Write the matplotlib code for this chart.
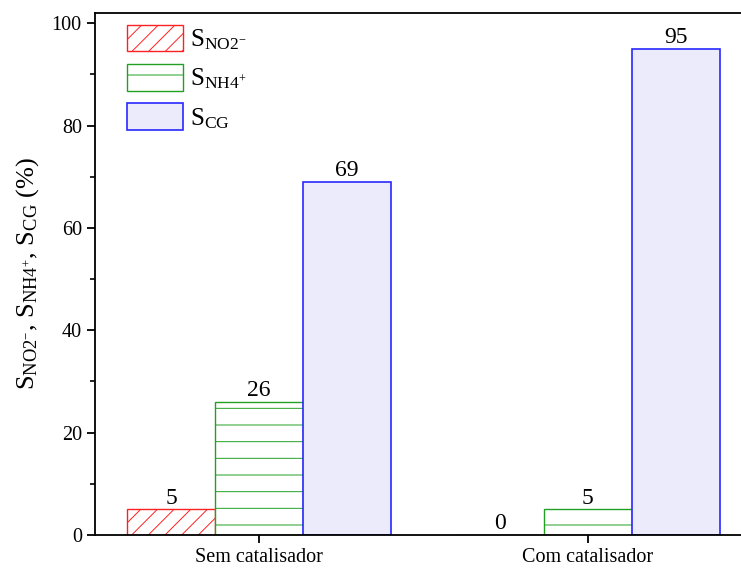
import numpy as np
import matplotlib
matplotlib.use("Agg")
import matplotlib.pyplot as plt
from matplotlib.ticker import MultipleLocator

plt.rcParams["font.family"] = ["Liberation Serif", "DejaVu Serif"]
plt.rcParams["mathtext.fontset"] = "custom"
plt.rcParams["mathtext.rm"] = "Liberation Serif"
plt.rcParams["mathtext.it"] = "Liberation Serif"
plt.rcParams["hatch.linewidth"] = 0.7

# data
groups = ["Sem catalisador", "Com catalisador"]
s_no2 = [5, 0]
s_nh4 = [26, 5]
s_cg = [69, 95]
series_labels = [r"$\mathrm{S_{NO2^{-}}}$", r"$\mathrm{S_{NH4^{+}}}$", r"$\mathrm{S_{CG}}$"]

fig = plt.figure(figsize=(7.41, 5.69), dpi=100)
ax = fig.add_axes([95 / 741, 34 / 569, (752 - 95) / 741, (535 - 13) / 569])

x = np.arange(len(groups))
w = 0.2675

b1 = ax.bar(x - w, s_no2, w, facecolor="white", edgecolor="#ff2020", hatch="//",
            linewidth=1.0, label=series_labels[0])
b2 = ax.bar(x, s_nh4, w, facecolor="white", edgecolor="#22a022", hatch="-",
            linewidth=1.0, label=series_labels[1])
b3 = ax.bar(x + w, s_cg, w, facecolor="#ebebfc", edgecolor="#2828ff",
            linewidth=1.2, label=series_labels[2])

for bars, vals in [(b1, s_no2), (b2, s_nh4), (b3, s_cg)]:
    for rect, v in zip(bars, vals):
        ax.text(rect.get_x() + rect.get_width() / 2, v + 1.1, f"{v}",
                ha="center", va="baseline", fontsize=17)

ax.set_xlim(-0.5, 1.5)
ax.set_ylim(0, 102)
ax.set_xticks(x)
ax.set_xticklabels(groups, fontsize=14.5)
ax.yaxis.set_major_locator(MultipleLocator(20))
ax.yaxis.set_minor_locator(MultipleLocator(10))
ax.tick_params(axis="y", which="major", direction="out", length=6, width=1.3, labelsize=14.5)
ax.tick_params(axis="y", which="minor", direction="out", length=3.5, width=1.2)
ax.tick_params(axis="x", direction="out", length=6, width=1.3, pad=3)
for side in ["left", "bottom", "top", "right"]:
    ax.spines[side].set_linewidth(1.3)

ax.set_ylabel(r"$\mathrm{S_{NO2^{-}}}$, $\mathrm{S_{NH4^{+}}}$, $\mathrm{S_{CG}}$ (%)",
              fontsize=19, labelpad=8)

ax.legend(loc="upper left", frameon=False, fontsize=18, handlelength=2.24,
          handleheight=1.25, labelspacing=0.48, handletextpad=0.3,
          borderpad=0, borderaxespad=0, bbox_to_anchor=(0.0487, 0.977))

fig.savefig("out.png", dpi=100)
